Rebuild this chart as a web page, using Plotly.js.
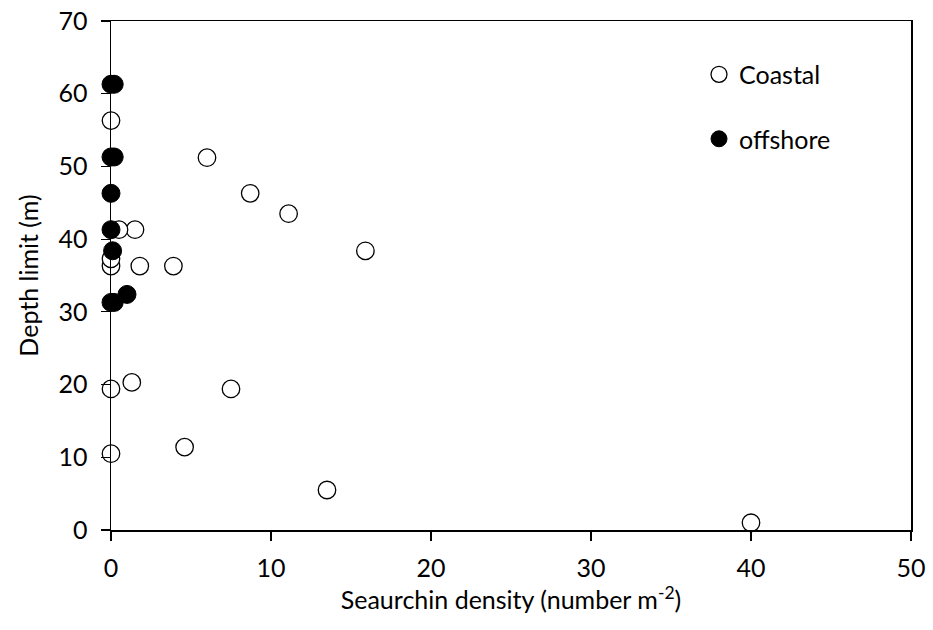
<!DOCTYPE html>
<html>
<head>
<meta charset="utf-8">
<script src="https://cdn.plot.ly/plotly-3.0.1.min.js"></script>
<style>html,body{margin:0;padding:0;background:#fff;}#chart{width:933px;height:630px;}</style>
</head>
<body>
<div id="chart"></div>
<script>
const coastalX = [40, 13.5, 4.6, 0, 7.5, 1.3, 0, 3.9, 1.8, 0, 0, 1.5, 0.5, 15.9, 11.1, 8.7, 6.0, 0];
const coastalY = [1, 5.5, 11.4, 10.5, 19.4, 20.3, 19.4, 36.3, 36.3, 36.3, 37.3, 41.3, 41.3, 38.4, 43.5, 46.3, 51.2, 56.3];
const offshoreX = [0, 0.2, 0, 0.2, 0, 0, 0.1, 1.0, 0, 0.2];
const offshoreY = [61.3, 61.3, 51.3, 51.3, 46.3, 41.3, 38.4, 32.4, 31.3, 31.3];
const xTicks = [0, 10, 20, 30, 40, 50];
const yTicks = [0, 10, 20, 30, 40, 50, 60, 70];

const FONT = 'Lato, "Open Sans", "Liberation Sans", sans-serif';
const FS = 25;

const traces = [
  {
    x: coastalX, y: coastalY, name: 'Coastal', type: 'scatter', mode: 'markers',
    legendgroup: 'a',
    marker: {symbol: 'circle', size: 17.5, color: '#ffffff', line: {color: '#000000', width: 1.3}},
    cliponaxis: false
  },
  {
    x: offshoreX, y: offshoreY, name: 'offshore', type: 'scatter', mode: 'markers',
    legendgroup: 'b',
    marker: {symbol: 'circle', size: 18, color: '#000000', line: {color: '#000000', width: 1}},
    cliponaxis: false
  }
];

const layout = {
  width: 933, height: 630,
  margin: {l: 111, r: 22, t: 21, b: 100},
  paper_bgcolor: '#ffffff', plot_bgcolor: '#ffffff',
  font: {family: FONT, size: FS, color: '#000000'},
  showlegend: true,
  legend: {
    x: 0.735, y: 0.94, xanchor: 'left', yanchor: 'top',
    bgcolor: 'rgba(0,0,0,0)', borderwidth: 0,
    font: {family: FONT, size: FS, color: '#000000'},
    traceorder: 'grouped', tracegroupgap: 29,
    itemwidth: 30
  },
  xaxis: {
    range: [0, 50], tickvals: xTicks, ticktext: xTicks.map(String),
    showgrid: false, zeroline: false,
    showline: true, linecolor: '#000000', linewidth: 1.5, mirror: true,
    ticks: 'outside', ticklen: 9, tickwidth: 1.2, tickcolor: '#000000',
    ticklabelstandoff: 6,
    tickfont: {family: FONT, size: FS, color: '#000000'},
    title: {text: 'Seaurchin density (number m<sup>-2</sup>)', font: {family: FONT, size: FS, color: '#000000'}, standoff: 8}
  },
  yaxis: {
    range: [0, 70], tickvals: yTicks, ticktext: yTicks.map(String),
    showgrid: false, zeroline: false,
    showline: true, linecolor: '#000000', linewidth: 1.5, mirror: true,
    ticks: 'outside', ticklen: 9, tickwidth: 1.2, tickcolor: '#000000',
    ticklabelstandoff: 8,
    tickfont: {family: FONT, size: FS, color: '#000000'},
    title: {text: 'Depth limit (m)', font: {family: FONT, size: FS, color: '#000000'}, standoff: 12}
  }
};

Plotly.newPlot('chart', traces, layout, {displayModeBar: false, staticPlot: true});
</script>
</body>
</html>
